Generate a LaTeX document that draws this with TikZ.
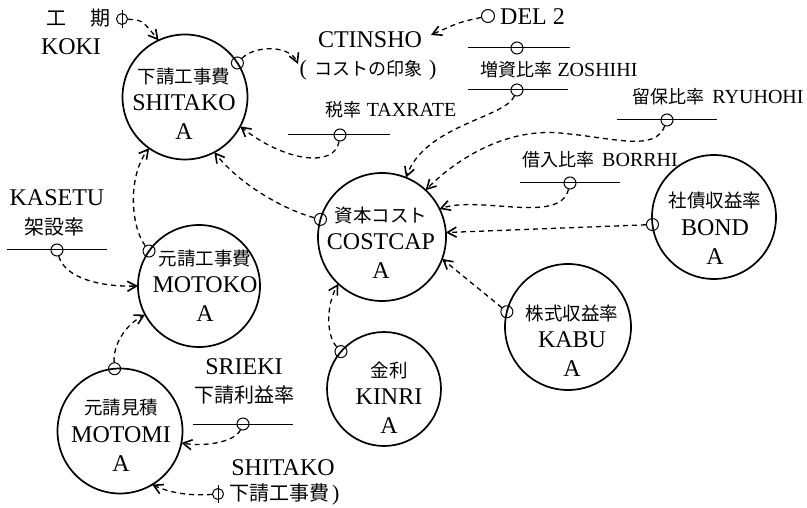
\documentclass[tikz,border=0pt]{standalone}
\usepackage{fontspec}
\setmainfont{Liberation Serif}
\newfontfamily\cjk{Noto Sans CJK JP}
\usetikzlibrary{arrows.meta}
\newcommand\jps[1]{{\cjk\fontsize{18}{20}\selectfont #1}}
\newcommand\jpb[1]{{\cjk\fontsize{20}{22}\selectfont #1}}
\newcommand\jpk[1]{{\cjk\fontsize{18}{22}\selectfont #1}}
\newcommand\ctext[5]{%
  \node[jpt] (#1-j) at (#2,#3-27) {#4};
  \node[lat] (#1-l) at (#2,#3) {#5};
  \node[lat] (#1-a) at (#2,#3+29) {A};}
\begin{document}
\begin{tikzpicture}[x=1pt,y=-1pt,
  big/.style={circle,draw,line width=1.7pt,inner sep=0pt,outer sep=0pt,minimum size=#1},
  port/.style={circle,draw,line width=1pt,inner sep=0pt,minimum size=12pt},
  rline/.style={line width=1pt},
  lat/.style={inner sep=0pt,font=\fontsize{24}{28}\selectfont},
  rate/.style={inner sep=0pt,font=\fontsize{20}{24}\selectfont},
  jpt/.style={inner sep=0pt,font=\cjk\fontsize{18.5}{22}\selectfont},
  jpo/.style={inner sep=0pt,font=\cjk\fontsize{20}{22}\selectfont},
  link/.style={line width=1.3pt,dash pattern=on 5pt off 4pt,-{Straight Barb[length=9pt,width=10pt,line width=1.6pt]}}]
\useasboundingbox (0,0) rectangle (807,508);

% main circles
\node[big=125pt] (shitako) at (185,97) {};
\node[big=122pt] (motoko) at (199,286) {};
\node[big=125pt] (motomi) at (120,431) {};
\node[big=128pt] (costcap) at (382,237) {};
\node[big=114pt] (kinri) at (384,389) {};
\node[big=126pt] (kabu) at (568,327) {};
\node[big=124pt] (bond) at (714,217) {};

\ctext{st}{184}{103}{下請工事費}{SHITAKO}
\ctext{mk}{205}{285}{元請工事費}{MOTOKO}
\ctext{mm}{121}{435}{元請見積}{MOTOMI}
\ctext{cc}{381}{242}{資本コスト}{COSTCAP}
\ctext{kn}{389}{397}{金利}{KINRI}
\ctext{kb}{572}{340}{株式収益率}{KABU}
\ctext{bd}{715}{228}{社債収益率}{BOND}

% ports on circles
\node[port] (p-st) at (shitako.33) {};
\node[port] (p-cc) at (costcap.164) {};
\node[port] (p-mk) at (motoko.145) {};
\node[port] (p-mm) at (motomi.95) {};
\node[port] (p-kn) at (kinri.139) {};
\node[port] (p-kb) at (kabu.166) {};
\node[port] (p-bd) at (bond.187) {};

% top-left KOKI
\node[inner sep=0pt] (kiT) at (78,18) {\jpb{工}\hspace{24pt}\jpb{期}};
\node[lat] (kokiT) at (71,47) {KOKI};
\node[port,minimum size=11pt] (kokisym) at (122,19) {};
\draw[rline] ([yshift=3pt]kokisym.north) -- ([yshift=-3pt]kokisym.south);

% CTINSHO
\node[lat] (ctinsho) at (370,40) {CTINSHO};
\node[inner sep=0pt,font=\fontsize{22}{24}\selectfont] (insho) at (368,70) {(\hspace{7pt}\jpk{コストの印象}\hspace{7pt})};
\coordinate (inshoIn) at (298,64);
\coordinate (ctIn) at (431,35);

% DEL 2
\node[port,minimum size=13pt] (delc) at (488,16) {};
\node[lat,anchor=west] (delT) at (500,17) {DEL 2};

% ZOSHIHI
\draw[rline] (468,48) -- (570,48);
\node[port] (zc1) at (517,48) {};
\node[rate] (zoshiT) at (559,70) {\jps{増資比率} ZOSHIHI};
\draw[rline] (468,90) -- (568,90);
\node[port] (zc2) at (517,90) {};

% TAXRATE
\node[rate] (taxT) at (391,110) {\jps{税率} TAXRATE};
\draw[rline] (288,135) -- (390,135);
\node[port] (taxc) at (340,135) {};

% RYUHOHI
\node[rate] (ryuT) at (718,97) {\jps{留保比率}\hspace{3pt} RYUHOHI};
\draw[rline] (617,120) -- (717,120);
\node[port] (ryuc) at (667,120) {};

% BORRHI
\node[rate] (borT) at (600,160) {\jps{借入比率}\hspace{3pt} BORRHI};
\draw[rline] (520,183) -- (620,183);
\node[port] (borc) at (570,183) {};

% KASETU
\node[lat] (kasT) at (57,198) {KASETU};
\node[jpo] (kasJ) at (54,227) {架設率};
\draw[rline] (7,250) -- (107,250);
\node[port] (kasc) at (57,250) {};

% SRIEKI
\node[lat] (sriT) at (244,367) {SRIEKI};
\node[jpo] (sriJ) at (244,395) {下請利益率};
\draw[rline] (193,424) -- (293,424);
\node[port] (sric) at (243,424) {};

% SHITAKO (bottom)
\node[lat] (shiT) at (283,468) {SHITAKO};
\node[port,minimum size=11pt] (shisym) at (218,494) {};
\draw[rline] ([yshift=3pt]shisym.north) -- ([yshift=-3pt]shisym.south);
\node[inner sep=0pt,anchor=west,font=\fontsize{22}{24}\selectfont] (shiJ) at (229,494) {\jpb{下請工事費}\hspace{3pt})};

% connectors
\draw[link] (kokisym) .. controls (142,20) .. (shitako.115);
\draw[link] (p-st) .. controls (255,45) and (290,45) .. (inshoIn);
\draw[link] (delc) .. controls (460,22) .. (ctIn);
\draw[link] (zc2) .. controls (505,118) and (425,125) .. (costcap.68);
\draw[link] (taxc) .. controls (335,168) and (285,162) .. (shitako.-28);
\draw[link] (ryuc) .. controls (655,152) and (615,138) .. (560,133) .. controls (505,128) and (455,160) .. (costcap.47);
\draw[link] (borc) .. controls (560,225) and (480,195) .. (costcap.26);
\draw[link] (p-bd) -- (costcap.4);
\draw[link] (p-kb) -- (costcap.-20);
\draw[link] (p-kn) .. controls (326,335) and (326,305) .. (costcap.-133);
\draw[link] (p-cc) .. controls (285,210) and (240,185) .. (shitako.-62);
\draw[link] (p-mk) .. controls (130,225) and (128,175) .. (shitako.-125);
\draw[link] (kasc) .. controls (65,278) and (100,287) .. (motoko.180);
\draw[link] (p-mm) .. controls (113,345) and (125,325) .. (motoko.-152);
\draw[link] (sric) .. controls (235,442) and (205,447) .. (motomi.-11);
\draw[link] (shisym) .. controls (190,496) and (170,493) .. (motomi.-59);
\end{tikzpicture}
\end{document}
